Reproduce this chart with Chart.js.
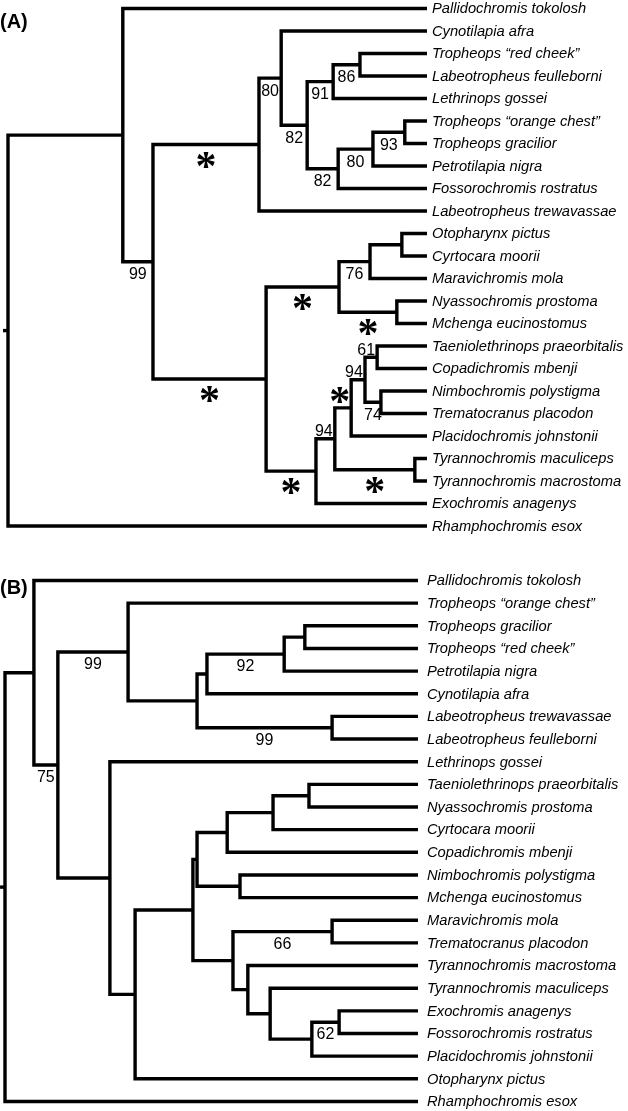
<!DOCTYPE html>
<html>
<head>
<meta charset="utf-8">
<script src="https://cdn.jsdelivr.net/npm/chart.js@4.4.0/dist/chart.umd.min.js"></script>
<style>
  html, body { margin: 0; padding: 0; background: #fff; }
  .panel { position: absolute; left: 0; width: 628px; }
  #wrapA { top: 0; height: 550px; }
  #wrapB { top: 550px; height: 561px; }
</style>
</head>
<body>
<div class="panel" id="wrapA"><canvas id="treeA" width="628" height="550"></canvas></div>
<div class="panel" id="wrapB"><canvas id="treeB" width="628" height="561"></canvas></div>
<script>
// ---- panel A ----
const taxaA = [
  'Pallidochromis tokolosh', 'Cynotilapia afra', 'Tropheops “red cheek”',
  'Labeotropheus feulleborni', 'Lethrinops gossei', 'Tropheops “orange chest”',
  'Tropheops gracilior', 'Petrotilapia nigra', 'Fossorochromis rostratus',
  'Labeotropheus trewavassae', 'Otopharynx pictus', 'Cyrtocara moorii',
  'Maravichromis mola', 'Nyassochromis prostoma', 'Mchenga eucinostomus',
  'Taeniolethrinops praeorbitalis', 'Copadichromis mbenji', 'Nimbochromis polystigma',
  'Trematocranus placodon', 'Placidochromis johnstonii', 'Tyrannochromis maculiceps',
  'Tyrannochromis macrostoma', 'Exochromis anagenys', 'Rhamphochromis esox'
];
// [upper child, lower child, node depth (% root->tip), support]
// children: taxon index, or 'cN' = row N of this list
const cladesA = [
  [2, 3, 84.0, '86'],
  ['c0', 4, 77.6, '91'],
  [5, 6, 94.7, '93'],
  ['c2', 7, 87.1, '80'],
  ['c3', 8, 78.8, '82'],
  ['c1', 'c4', 71.4, '82'],
  [1, 'c5', 65.2, '80'],
  ['c6', 9, 59.9, '*'],
  [10, 11, 94.0, ''],
  ['c8', 12, 86.4, '76'],
  [13, 14, 92.8, '*'],
  ['c9', 'c10', 79.0, '*'],
  [15, 16, 88.1, '61'],
  [17, 18, 89.0, '74'],
  ['c12', 'c13', 85.2, '94'],
  ['c14', 19, 81.9, '*'],
  [20, 21, 97.1, '*'],
  ['c15', 'c16', 78.0, '94'],
  ['c17', 22, 73.5, '*'],
  ['c11', 'c18', 61.6, '*'],
  ['c7', 'c19', 34.6, '99'],
  [0, 'c20', 27.4, ''],
  ['c21', 23, 0, '']
];
const aboveA = [12, 14, 15, 17];

// ---- panel B ----
const taxaB = [
  'Pallidochromis tokolosh', 'Tropheops “orange chest”', 'Tropheops gracilior',
  'Tropheops “red cheek”', 'Petrotilapia nigra', 'Cynotilapia afra',
  'Labeotropheus trewavassae', 'Labeotropheus feulleborni', 'Lethrinops gossei',
  'Taeniolethrinops praeorbitalis', 'Nyassochromis prostoma', 'Cyrtocara moorii',
  'Copadichromis mbenji', 'Nimbochromis polystigma', 'Mchenga eucinostomus',
  'Maravichromis mola', 'Trematocranus placodon', 'Tyrannochromis macrostoma',
  'Tyrannochromis maculiceps', 'Exochromis anagenys', 'Fossorochromis rostratus',
  'Placidochromis johnstonii', 'Otopharynx pictus', 'Rhamphochromis esox'
];
const cladesB = [
  [2, 3, 72.6, ''],
  ['c0', 4, 67.6, '92'],
  ['c1', 5, 48.9, ''],
  [6, 7, 79.2, '99'],
  ['c2', 'c3', 46.5, ''],
  [1, 'c4', 29.8, '99'],
  [9, 10, 73.6, ''],
  ['c6', 11, 64.9, ''],
  ['c7', 12, 53.8, ''],
  [13, 14, 56.9, ''],
  ['c8', 'c9', 46.5, ''],
  [15, 16, 79.2, '66'],
  [19, 20, 80.9, '62'],
  ['c12', 21, 74.3, ''],
  [18, 'c13', 64.2, ''],
  [17, 'c14', 58.8, ''],
  ['c11', 'c15', 55.2, ''],
  ['c10', 'c16', 45.5, ''],
  ['c17', 22, 31.5, ''],
  [8, 'c18', 25.4, ''],
  ['c5', 'c19', 12.8, '75'],
  [0, 'c20', 7.0, ''],
  ['c21', 23, 0, '']
];
const aboveB = [];

const TIP = 100;

function layoutTree(taxa, clades) {
  const pos = {};
  const parent = {};
  taxa.forEach((t, i) => { pos[i] = { x: TIP, y: i }; });
  const segs = [];
  clades.forEach((c, k) => {
    const [a, b, depth] = c;
    const pa = pos[a], pb = pos[b];
    pos['c' + k] = { x: depth, y: (pa.y + pb.y) / 2 };
    parent[a] = k; parent[b] = k;
    segs.push([
      { x: pa.x, y: pa.y }, { x: depth, y: pa.y },
      { x: depth, y: pb.y }, { x: pb.x, y: pb.y }
    ]);
  });
  const root = pos['c' + (clades.length - 1)];
  segs.push([{ x: -1.2, y: root.y }, { x: 0, y: root.y }]);
  return { pos, parent, segs };
}

const treeLabels = {
  id: 'treeLabels',
  afterDatasetsDraw(chart, args, o) {
    const ctx = chart.ctx;
    const xs = chart.scales.x, ys = chart.scales.y;
    const { pos, parent } = o.tree;
    ctx.save();
    ctx.fillStyle = '#000';
    ctx.textAlign = 'left';
    ctx.textBaseline = 'alphabetic';

    // taxon names
    ctx.font = 'italic 14.7px "Liberation Sans", Arial, sans-serif';
    o.taxa.forEach((name, i) => {
      ctx.fillText(name, xs.getPixelForValue(TIP) + o.nameGap, ys.getPixelForValue(i) + 4.8);
    });

    // support values / asterisks
    o.clades.forEach((c, k) => {
      const sup = c[3];
      if (!sup) return;
      const id = 'c' + k;
      const node = pos[id];
      const up = o.above.includes(k);
      const px0 = xs.getPixelForValue(pos['c' + parent[id]].x);
      const px1 = xs.getPixelForValue(node.x);
      const star = sup === '*';
      ctx.font = star ? 'bold 42px "Liberation Serif", serif' : '16px "Liberation Sans", Arial, sans-serif';
      const m = ctx.measureText(sup);
      const w = m.actualBoundingBoxRight + m.actualBoundingBoxLeft;
      let cx = (px0 + px1) / 2;
      if (up && cx + w / 2 > px1 - 2) cx = px1 - 2 - w / 2;
      let off;
      if (star) off = up ? -13 : 15;
      else off = up ? -8.5 : o.belowOff;
      const cy = ys.getPixelForValue(node.y) + off;
      const bx = cx - (m.actualBoundingBoxRight - m.actualBoundingBoxLeft) / 2;
      const by = cy + (m.actualBoundingBoxAscent - m.actualBoundingBoxDescent) / 2;
      ctx.fillText(sup, bx, by);
    });

    // panel tag
    ctx.font = 'bold 20px "Liberation Sans", Arial, sans-serif';
    ctx.fillText(o.tag, 0, o.tagBase);
    ctx.restore();
  }
};

function drawTree(canvasId, taxa, clades, above, frame) {
  const tree = layoutTree(taxa, clades);
  const canvas = document.getElementById(canvasId);
  const pxPerUnit = (frame.tipPx - frame.rootPx) / TIP;
  const xMin = -frame.rootPx / pxPerUnit;
  const xMax = xMin + canvas.width / pxPerUnit;
  const yMin = -frame.firstRowPx / frame.rowPx;
  const yMax = yMin + canvas.height / frame.rowPx;

  return new Chart(canvas, {
    type: 'scatter',
    data: {
      datasets: tree.segs.map(pts => ({
        data: pts,
        showLine: true,
        borderColor: '#000',
        borderWidth: 3.4,
        borderJoinStyle: 'miter',
        borderCapStyle: 'butt',
        pointRadius: 0,
        tension: 0,
        clip: false
      }))
    },
    options: {
      responsive: false,
      animation: false,
      events: [],
      layout: { padding: 0 },
      plugins: {
        legend: { display: false },
        tooltip: { enabled: false },
        treeLabels: {
          tree, taxa, clades, above,
          nameGap: frame.nameGap,
          belowOff: frame.belowOff,
          tag: frame.tag,
          tagBase: frame.tagBase
        }
      },
      scales: {
        x: { type: 'linear', display: false, min: xMin, max: xMax },
        y: { type: 'linear', display: false, reverse: true, min: yMin, max: yMax }
      }
    },
    plugins: [treeLabels]
  });
}

drawTree('treeA', taxaA, cladesA, aboveA, {
  rootPx: 8, tipPx: 427, firstRowPx: 8.5, rowPx: 22.5,
  nameGap: 5, belowOff: 11.5, tag: '(A)', tagBase: 27.8
});
drawTree('treeB', taxaB, cladesB, aboveB, {
  rootPx: 5, tipPx: 418, firstRowPx: 30.5, rowPx: 22.65,
  nameGap: 9, belowOff: 11, tag: '(B)', tagBase: 44
});
</script>
</body>
</html>
